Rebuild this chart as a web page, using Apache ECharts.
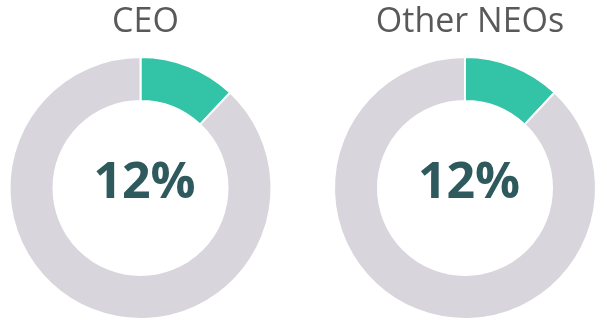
<!DOCTYPE html>
<html>
<head>
<meta charset="utf-8">
<style>html,body{margin:0;padding:0;background:#fff;}#c{width:607px;height:325px;}</style>
<script src="https://cdn.jsdelivr.net/npm/echarts@6/dist/echarts.min.js"></script>
</head>
<body>
<div id="c"></div>
<script>
var groups = ['CEO', 'Other NEOs'];
var categories = ['Share', 'Remainder'];
var ceoValues = [12, 88];
var neoValues = [12, 88];
var centerLabels = ['12%', '12%'];

var chart = echarts.init(document.getElementById('c'), null, {renderer: 'canvas'});
var centersX = [140.5, 465];
var allValues = [ceoValues, neoValues];

function makeSeries(i) {
  return {
    type: 'pie',
    name: groups[i],
    center: [centersX[i], 188],
    radius: [87, 131],
    startAngle: 90,
    clockwise: true,
    silent: true,
    animation: false,
    avoidLabelOverlap: false,
    labelLine: {show: false},
    itemStyle: {borderColor: '#ffffff', borderWidth: 2},
    data: categories.map(function (c, j) {
      return {
        name: c,
        value: allValues[i][j],
        itemStyle: {color: j === 0 ? '#33C3A6' : '#D9D5DD'},
        label: j === 0 ? {
          show: true,
          position: 'center',
          formatter: centerLabels[i],
          fontFamily: 'Open Sans',
          fontWeight: 'bold',
          fontSize: 50,
          color: '#2F5A5D',
          offset: [4, -4]
        } : {show: false}
      };
    })
  };
}

chart.setOption({
  backgroundColor: '#ffffff',
  title: groups.map(function (g, i) {
    return {
      text: g,
      left: centersX[i] + (i === 0 ? -0 : 0),
      top: 0,
      textAlign: 'center',
      textStyle: {fontFamily: 'Open Sans', fontWeight: 'normal', fontSize: 34, color: '#595959'}
    };
  }),
  series: [makeSeries(0), makeSeries(1)]
});
</script>
</body>
</html>
